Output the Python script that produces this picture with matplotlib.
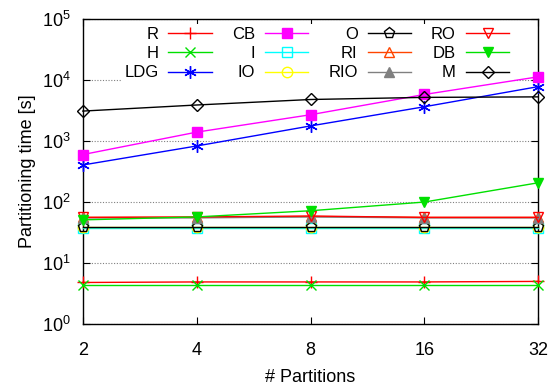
import numpy as np
import matplotlib
matplotlib.use("Agg")
import matplotlib.pyplot as plt

plt.rcParams["font.family"] = ["Liberation Sans", "DejaVu Sans"]
plt.rcParams["mathtext.fontset"] = "custom"
plt.rcParams["mathtext.rm"] = "Liberation Sans"
plt.rcParams["mathtext.it"] = "Liberation Sans"

# data
partitions = [2, 4, 8, 16, 32]
t_R = [4.8, 4.9, 4.9, 4.9, 5.0]
t_H = [4.3, 4.3, 4.3, 4.3, 4.3]
t_LDG = [405, 830, 1770, 3650, 7800]
t_CB = [600, 1400, 2700, 5800, 11300]
t_I = [38, 38, 38, 38, 38]
t_IO = [39, 39, 39, 39, 39]
t_O = [39, 39, 39, 39, 39]
t_RI = [56, 56, 58, 56, 56]
t_RIO = [55, 55, 57, 55, 55]
t_RO = [56, 57, 59, 56, 56]
t_DB = [51, 57, 72, 100, 207]
t_M = [3100, 3900, 4800, 5200, 5300]

series = [
    ("R", t_R, "#ff0000", "+", dict(ms=9)),
    ("H", t_H, "#00e000", "x", dict(ms=7.5)),
    ("LDG", t_LDG, "#0000ff", (6, 2, 0), dict(ms=9)),
    ("CB", t_CB, "#ff00ff", "s", dict(ms=7)),
    ("I", t_I, "#00ffff", "s", dict(ms=7, mfc="none")),
    ("IO", t_IO, "#ffff00", "o", dict(ms=7.5, mfc="none")),
    ("O", t_O, "#000000", "p", dict(ms=8, mfc="none")),
    ("RI", t_RI, "#ff4500", "^", dict(ms=7.5, mfc="none")),
    ("RIO", t_RIO, "#808080", "^", dict(ms=7)),
    ("RO", t_RO, "#ff0000", "v", dict(ms=7.5, mfc="none")),
    ("DB", t_DB, "#00e000", "v", dict(ms=7)),
    ("M", t_M, "#000000", "D", dict(ms=6, mfc="none")),
]

fig = plt.figure(figsize=(5.52, 3.89), dpi=100)
ax = fig.add_axes([0.150, 0.167, 0.825, 0.784])

for name, vals, col, mk, kw in series:
    ax.plot(partitions, vals, color=col, marker=mk, lw=1.0, mew=1.0,
            label=name, clip_on=False, zorder=3, **kw)

ax.set_xscale("log", base=2)
ax.set_yscale("log")
ax.set_xlim(2, 32)
ax.set_ylim(1, 1e5)
ax.set_xticks(partitions)
ax.set_xticklabels([str(p) for p in partitions])
ax.minorticks_off()
ax.set_yticks([1, 10, 100, 1000, 1e4, 1e5])
ax.set_yticklabels([r"$10^{%d}$" % i for i in range(6)])
ax.tick_params(axis="both", which="major", direction="in", top=True, right=True,
               length=5, labelsize=13)
ax.tick_params(axis="x", pad=13)
ax.tick_params(axis="y", pad=9)
ax.yaxis.grid(True, linestyle=(0, (1, 1.5)), color="#808080", lw=0.8)
ax.set_axisbelow(True)
for sp in ax.spines.values():
    sp.set_linewidth(1.0)

ax.set_xlabel("# Partitions", fontsize=13, labelpad=7)
ax.set_ylabel("Partitioning time [s]", fontsize=13, labelpad=4)

leg = ax.legend(ncol=4, loc="upper right", bbox_to_anchor=(0.962, 1.012),
                markerfirst=False, fontsize=12, handlelength=2.6,
                columnspacing=1.2, labelspacing=0.25, handletextpad=0.6,
                borderpad=0.2, frameon=True, fancybox=False)
leg.get_frame().set_edgecolor("none")
leg.get_frame().set_facecolor("white")
leg.get_frame().set_alpha(1.0)
leg.set_zorder(2)
for t in leg.get_texts():
    t.set_ha("right")

fig.savefig("out.png", dpi=100)
